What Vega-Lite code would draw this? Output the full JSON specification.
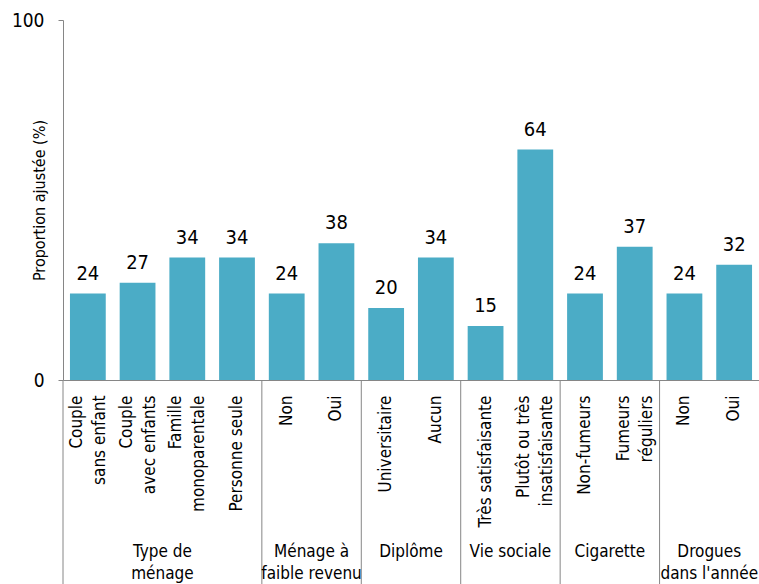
{
  "$schema": "https://vega.github.io/schema/vega-lite/v6.json",
  "autosize": "none",
  "width": 696,
  "height": 360,
  "padding": {"left": 63, "top": 20, "right": 0, "bottom": 204},
  "background": "white",
  "config": {
    "view": {"stroke": null},
    "font": "DejaVu Sans Condensed, Liberation Sans, sans-serif",
    "text": {"font": "DejaVu Sans Condensed, Liberation Sans, sans-serif"}
  },
  "datasets": {
    "bars": [
      {"cat": "01|Couple|sans enfant", "value": 24},
      {"cat": "02|Couple|avec enfants", "value": 27},
      {"cat": "03|Famille|monoparentale", "value": 34},
      {"cat": "04|Personne seule", "value": 34},
      {"cat": "05|Non", "value": 24},
      {"cat": "06|Oui", "value": 38},
      {"cat": "07|Universitaire", "value": 20},
      {"cat": "08|Aucun", "value": 34},
      {"cat": "09|Très satisfaisante", "value": 15},
      {"cat": "10|Plutôt ou très|insatisfaisante", "value": 64},
      {"cat": "11|Non-fumeurs", "value": 24},
      {"cat": "12|Fumeurs|réguliers", "value": 37},
      {"cat": "13|Non", "value": 24},
      {"cat": "14|Oui", "value": 32}
    ],
    "groups": [
      {"cat": "03|Famille|monoparentale", "group": "Type de|ménage"},
      {"cat": "06|Oui", "group": "Ménage à|faible revenu"},
      {"cat": "08|Aucun", "group": "Diplôme"},
      {"cat": "10|Plutôt ou très|insatisfaisante", "group": "Vie sociale"},
      {"cat": "12|Fumeurs|réguliers", "group": "Cigarette"},
      {"cat": "14|Oui", "group": "Drogues|dans l'année"}
    ],
    "separators": [
      {"cat": "01|Couple|sans enfant"},
      {"cat": "05|Non"},
      {"cat": "07|Universitaire"},
      {"cat": "09|Très satisfaisante"},
      {"cat": "11|Non-fumeurs"},
      {"cat": "13|Non"}
    ]
  },
  "layer": [
    {
      "data": {"name": "bars"},
      "mark": {"type": "bar", "width": {"band": 0.72}, "color": "#4BACC6"},
      "encoding": {
        "x": {
          "field": "cat", "type": "nominal", "sort": null,
          "scale": {
            "domain": ["01|Couple|sans enfant", "02|Couple|avec enfants", "03|Famille|monoparentale", "04|Personne seule", "05|Non", "06|Oui", "07|Universitaire", "08|Aucun", "09|Très satisfaisante", "10|Plutôt ou très|insatisfaisante", "11|Non-fumeurs", "12|Fumeurs|réguliers", "13|Non", "14|Oui"],
            "paddingInner": 0, "paddingOuter": 0
          },
          "axis": {
            "title": null,
            "orient": "bottom",
            "domainColor": "#868686",
            "ticks": false,
            "labelAngle": -90,
            "labelAlign": "right",
            "labelBaseline": "middle",
            "labelPadding": 15,
            "labelFontSize": 17,
            "labelLineHeight": 23,
            "labelColor": "#000000",
            "labelLimit": 0,
            "labelOverlap": false,
            "labelOffset": {"condition": {"test": "length(split(datum.value, '|')) > 2", "value": -11}, "value": 0},
            "labelExpr": "slice(split(datum.value, '|'), 1)"
          }
        },
        "y": {
          "field": "value", "type": "quantitative",
          "scale": {"domain": [0, 100], "nice": false, "zero": true},
          "axis": {
            "title": "Proportion ajustée  (%)",
            "titleFontSize": 16,
            "titleFontWeight": "normal",
            "titleColor": "#000000",
            "titleX": -16,
            "titleY": 180,
            "titleBaseline": "bottom",
            "values": [0, 100],
            "grid": false,
            "domainColor": "#868686",
            "tickColor": "#868686",
            "tickSize": 5,
            "labelFontSize": 19,
            "labelColor": "#000000",
            "labelPadding": 14
          }
        }
      }
    },
    {
      "data": {"name": "bars"},
      "mark": {"type": "text", "fontSize": 20, "baseline": "alphabetic", "dy": -14, "color": "#000000"},
      "encoding": {
        "x": {"field": "cat", "type": "nominal", "sort": null},
        "y": {"field": "value", "type": "quantitative"},
        "text": {"field": "value", "type": "quantitative"}
      }
    },
    {
      "data": {"name": "separators"},
      "mark": {"type": "rule", "color": "#868686", "strokeWidth": 1},
      "encoding": {
        "x": {"field": "cat", "type": "nominal", "sort": null, "bandPosition": 0},
        "y": {"datum": 0, "type": "quantitative"},
        "y2": {"datum": -58}
      }
    },
    {
      "data": {"name": "groups"},
      "mark": {"type": "text", "fontSize": 17, "baseline": "alphabetic", "align": "center", "lineBreak": "|", "lineHeight": 22, "color": "#000000"},
      "encoding": {
        "x": {"field": "cat", "type": "nominal", "sort": null, "bandPosition": 0},
        "y": {"datum": -49.2, "type": "quantitative"},
        "text": {"field": "group", "type": "nominal"}
      }
    }
  ]
}
